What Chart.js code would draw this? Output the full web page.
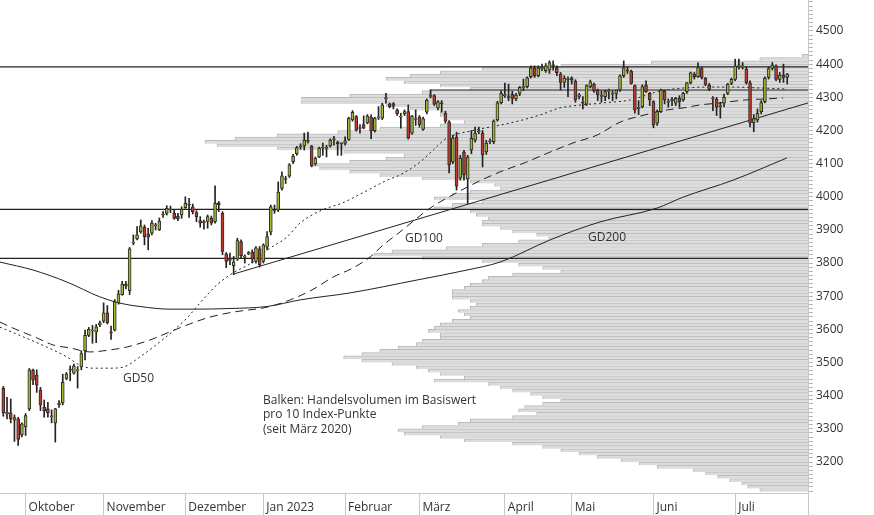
<!DOCTYPE html>
<html lang="de">
<head>
<meta charset="utf-8">
<title>Euro Stoxx 50 – Kursverlauf mit Volumenprofil</title>
<script src="https://cdn.jsdelivr.net/npm/chart.js@4.4.1/dist/chart.umd.min.js"></script>
<style>
  html, body { margin: 0; padding: 0; background: #fff; }
  #wrap { width: 874px; height: 515px; position: relative; }
</style>
</head>
<body>
<div id="wrap"><canvas id="chart"></canvas></div>
<script>
// Month axis: index of the first trading day of each month
const monthStart = [6, 27, 49, 70, 92, 112, 135, 153, 175, 197];
const monthNames = ['Oktober', 'November', 'Dezember', 'Jan 2023', 'Februar', 'März', 'April', 'Mai', 'Juni', 'Juli'];
const yLabels = [3200, 3300, 3400, 3500, 3600, 3700, 3800, 3900, 4000, 4100, 4200, 4300, 4400, 4500];

// Daily candles (Sep 2022 - Jul 2023)
const open = [3423,3345,3348,3326,3330,3282,3306,3360,3477,3462,
  3417,3366,3360,3336,3318,3372,3378,3452,3480,3468,
  3475,3487,3535,3582,3595,3592,3613,3625,3650,3592,
  3598,3680,3705,3737,3717,3860,3873,3894,3908,3888,
  3890,3912,3900,3945,3950,3960,3950,3942,3945,3967,
  3978,3970,3952,3928,3925,3926,3935,3925,3982,3950,
  3828,3808,3792,3812,3865,3818,3828,3833,3805,3843,
  3805,3848,3893,3960,3960,4025,4055,4062,4106,4130,
  4150,4153,4170,4153,4099,4120,4147,4146,4153,4172,
  4165,4160,4161,4173,4232,4242,4206,4218,4223,4240,
  4199,4238,4237,4296,4280,4281,4262,4240,4250,4257,
  4192,4233,4240,4203,4255,4303,4305,4268,4283,4252,
  4226,4105,4180,4057,4135,4054,4141,4171,4196,4191,
  4135,4166,4166,4232,4284,4305,4302,4309,4295,4312,
  4329,4332,4362,4389,4365,4386,4380,4382,4398,4389,
  4369,4345,4356,4358,4349,4303,4285,4279,4332,4340,
  4322,4303,4302,4318,4310,4312,4322,4365,4383,4379,
  4335,4266,4272,4337,4312,4287,4222,4257,4319,4285,
  4290,4282,4297,4292,4317,4344,4370,4362,4387,4357,
  4337,4298,4294,4272,4282,4312,4342,4354,4392,4392,
  4385,4344,4223,4232,4257,4287,4360,4387,4394,4354,
  4367,4360];
const high = [3428,3395,3390,3342,3335,3318,3346,3482,3480,3478,
  3425,3387,3380,3357,3362,3385,3465,3470,3490,3495,
  3488,3535,3598,3606,3612,3615,3625,3680,3672,3610,
  3690,3718,3745,3745,3847,3885,3910,3930,3915,3905,
  3928,3920,3936,3955,3973,3972,3960,3950,3970,4000,
  3995,3978,3958,3940,3930,3945,3942,4033,3986,3955,
  3832,3830,3820,3875,3870,3825,3835,3840,3850,3850,
  3858,3895,3975,3975,4045,4075,4062,4100,4128,4152,
  4160,4192,4195,4155,4120,4150,4162,4155,4175,4182,
  4168,4163,4181,4240,4260,4245,4218,4244,4248,4247,
  4240,4272,4282,4312,4283,4284,4265,4252,4262,4277,
  4246,4262,4245,4240,4295,4322,4308,4290,4290,4258,
  4230,4185,4195,4125,4140,4125,4200,4210,4210,4200,
  4170,4175,4232,4288,4320,4343,4340,4318,4312,4333,
  4355,4362,4395,4395,4395,4400,4402,4410,4410,4395,
  4375,4365,4362,4362,4353,4312,4302,4338,4352,4343,
  4325,4320,4322,4325,4320,4322,4368,4410,4392,4382,
  4338,4290,4338,4350,4315,4290,4262,4325,4322,4295,
  4300,4300,4305,4315,4345,4376,4375,4404,4392,4360,
  4342,4302,4300,4285,4310,4342,4358,4415,4415,4405,
  4392,4350,4248,4265,4290,4362,4392,4405,4398,4375,
  4400,4372];
const low = [3338,3330,3318,3262,3250,3276,3280,3355,3433,3410,
  3355,3335,3335,3318,3260,3365,3372,3448,3445,3465,
  3423,3478,3508,3578,3558,3560,3608,3620,3616,3570,
  3595,3676,3703,3722,3705,3855,3870,3890,3855,3840,
  3885,3900,3898,3938,3945,3952,3932,3928,3935,3965,
  3938,3948,3925,3908,3902,3905,3915,3920,3955,3825,
  3786,3795,3765,3808,3815,3800,3825,3800,3800,3788,
  3800,3840,3885,3950,3955,4020,4040,4058,4100,4125,
  4143,4141,4162,4090,4095,4118,4125,4120,4150,4156,
  4125,4125,4156,4170,4228,4198,4192,4205,4220,4175,
  4195,4233,4233,4282,4268,4265,4245,4207,4245,4174,
  4188,4215,4210,4200,4250,4298,4275,4262,4255,4222,
  4072,4100,4020,4050,4050,3980,4130,4165,4190,4090,
  4128,4160,4160,4228,4280,4300,4290,4280,4290,4305,
  4320,4328,4358,4360,4362,4380,4375,4372,4382,4365,
  4322,4330,4302,4340,4285,4295,4265,4275,4328,4315,
  4290,4285,4290,4295,4290,4295,4318,4360,4372,4340,
  4252,4248,4268,4315,4275,4208,4215,4254,4280,4270,
  4275,4275,4270,4288,4312,4340,4355,4360,4355,4335,
  4320,4260,4245,4237,4272,4308,4338,4350,4385,4385,
  4340,4211,4196,4225,4250,4283,4355,4382,4350,4345,
  4345,4340];
const close = [3348,3350,3330,3334,3268,3315,3340,3478,3447,3432,
  3372,3355,3348,3339,3360,3378,3440,3465,3477,3490,
  3478,3527,3582,3600,3598,3608,3620,3650,3620,3589,
  3683,3707,3737,3730,3843,3863,3885,3912,3880,3878,
  3921,3915,3927,3948,3965,3963,3935,3933,3963,3980,
  3975,3955,3940,3920,3922,3940,3920,3980,3976,3835,
  3805,3811,3803,3868,3822,3821,3832,3812,3846,3795,
  3855,3880,3970,3958,4014,4063,4052,4096,4123,4148,
  4153,4171,4167,4093,4117,4147,4150,4149,4171,4175,
  4160,4163,4169,4237,4255,4201,4209,4207,4243,4199,
  4237,4241,4277,4299,4272,4273,4250,4243,4257,4177,
  4243,4236,4217,4236,4292,4306,4279,4286,4281,4228,
  4096,4177,4032,4117,4066,4120,4176,4192,4199,4126,
  4162,4169,4228,4283,4312,4308,4299,4297,4307,4330,
  4332,4359,4389,4365,4389,4390,4395,4405,4395,4374,
  4345,4358,4353,4352,4292,4307,4282,4335,4347,4319,
  4307,4306,4317,4321,4313,4322,4365,4389,4380,4342,
  4262,4270,4332,4317,4292,4217,4257,4322,4292,4288,
  4294,4297,4287,4312,4344,4374,4362,4390,4360,4339,
  4324,4296,4270,4275,4300,4340,4354,4394,4396,4395,
  4344,4223,4236,4252,4284,4357,4387,4397,4354,4367,
  4360,4370];

// Moving averages (x = trading day index)
const gd50X = [-0.9,2.3,13.4,17.1,20.6,24.1,28.7,32.2,36.8,49.4,52.9,57.5,61.8,67.2,71,76.4,79.9,85.8,91.2,96.6,103.3,106.8,112.2,115.7,119.4,125.6,133.7,139.9,145.3,149.8,155.8,161.4,168.7,176.8,183,189.4,196.4,203.7,210.9];
const gd50Y = [3607,3592,3538,3517,3492,3483,3483,3486,3517,3634,3679,3734,3770,3803,3839,3879,3921,3960,3981,4011,4050,4066,4105,4141,4177,4198,4216,4232,4250,4268,4277,4283,4292,4319,4328,4331,4331,4328,4325];
const gd100X = [-0.9,2.6,9.1,13.4,18,23.3,28.7,33.3,39.5,44.1,49.4,55.6,61.8,71,77.2,83.1,88.8,94.1,98.7,102.2,106.8,114.9,119.4,127.5,133.7,140.9,145.3,153.3,159.8,166,172.7,178.7,183,187.5,192.9,199.7,205,209.9];
const gd100Y = [3622,3604,3574,3553,3544,3532,3538,3547,3568,3589,3613,3637,3652,3667,3689,3719,3758,3785,3818,3854,3894,3966,3996,4044,4075,4105,4126,4162,4186,4225,4247,4262,4268,4277,4283,4292,4295,4298];
const gd200X = [-0.9,8,17.1,26,31.4,36.8,44.9,51.6,61,71,79.9,93.3,111.4,124.8,133.7,147.2,160.6,176,183,196.4,210.9];
const gd200Y = [3803,3779,3743,3698,3679,3669,3661,3661,3663,3669,3689,3710,3749,3779,3803,3870,3924,3966,3999,4050,4117];

// Trend line from the December low, horizontal marks
const trendX = [62, 216.6];
const trendY = [3767, 4283];
const levels = [4392, 3962, 3814];
const marchHigh = 4322;

// Volume profile per 10 index points, bins 3115 .. 4425 (relative volume, max = 100)
const volume = [8,10,11,13,15,17,19,25,28,31,
  35,38,41,44,49,57,61,67,68,64,
  58,56,49,45,48,47,44,41,44,46,
  49,51,53,62,57,61,63,65,69,74,
  77,74,71,68,65,64,61,61,63,62,
  61,59,56,57,58,56,55,56,59,59,
  59,57,56,54,53,49,41,44,48,54,
  64,72,69,60,54,48,43,45,49,51,
  54,54,53,55,56,62,59,54,62,59,
  56,51,52,56,64,71,76,81,82,76,
  70,67,77,88,98,100,95,88,78,71,
  61,57,60,61,61,66,70,84,84,76,
  64,56,61,67,70,66,61,54,41,26,
  8,1];

const GREEN = '#a3b62a';
const RED = '#c0392b';
const INK = '#222';
const yMin = 3106.5, yMax = 4593.5;
const xMin = -0.89, xMax = 216.6;

const pairs = (xs, ys) => xs.map((x, i) => ({ x: x, y: ys[i] }));
const flat = v => [{ x: xMin, y: v }, { x: xMax, y: v }];

const wickData = close.map((c, i) => ({ x: i, y: [low[i], high[i]] }));
const bodyData = close.map((c, i) => ({ x: i, y: [open[i], c] }));
// bin centres of the profile
const volData = volume.map((v, i) => ({ x: v, y: 3115 + i * 10 }));

const lineStyle = { type: 'line', borderColor: INK, borderWidth: 1, pointRadius: 0, fill: false, order: 5 };

const notes = [
  { text: 'GD50', at: [32.2, 3453] },
  { text: 'GD100', at: [108.1, 3873] },
  { text: 'GD200', at: [157.4, 3876] },
  { text: 'Balken: Handelsvolumen im Basiswert', at: [69.9, 3384] },
  { text: 'pro 10 Index-Punkte', at: [69.9, 3342] },
  { text: '(seit März 2020)', at: [69.9, 3299] }
];

const notePlugin = {
  id: 'notes',
  afterDatasetsDraw(chart) {
    const { ctx, scales } = chart;
    ctx.save();
    ctx.font = '12px "Open Sans", sans-serif';
    ctx.fillStyle = '#333';
    ctx.textBaseline = 'middle';
    ctx.textAlign = 'left';
    notes.forEach(n => {
      ctx.fillText(n.text, scales.x.getPixelForValue(n.at[0]), scales.y.getPixelForValue(n.at[1]));
    });
    ctx.restore();
  },
  afterDraw(chart) {
    // carry the axis line down through the month strip
    const { ctx, chartArea } = chart;
    const xr = Math.round(chartArea.right) + 0.5;
    ctx.save();
    ctx.strokeStyle = '#c8c8c8';
    ctx.lineWidth = 1;
    ctx.beginPath();
    ctx.moveTo(xr, chartArea.bottom);
    ctx.lineTo(xr, chart.height);
    ctx.stroke();
    ctx.restore();
  }
};

Chart.defaults.font.family = '"Open Sans", sans-serif';
Chart.defaults.font.size = 12;
Chart.defaults.color = '#333';

new Chart(document.getElementById('chart'), {
  type: 'bar',
  data: {
    datasets: [
      {
        label: 'Volumen', data: volData, indexAxis: 'y', xAxisID: 'xv', yAxisID: 'yv',
        backgroundColor: '#dcdcdc', borderColor: '#b8b8b8',
        borderWidth: { top: 1, left: 1, right: 0, bottom: 0 }, borderSkipped: false,
        categoryPercentage: 1, barPercentage: 1, grouped: false, order: 10
      },
      ...levels.map(v => ({ ...lineStyle, label: 'Marke ' + v, data: flat(v), borderWidth: 1.2, order: 6 })),
      { ...lineStyle, label: 'März-Hoch', data: [{ x: 115, y: marchHigh - 15 }, { x: 115, y: marchHigh }, { x: xMax, y: marchHigh }], borderWidth: 1.2, order: 6 },
      { ...lineStyle, label: 'Trend', data: pairs(trendX, trendY) },
      { ...lineStyle, label: 'GD200', data: pairs(gd200X, gd200Y), cubicInterpolationMode: 'monotone' },
      { ...lineStyle, label: 'GD100', data: pairs(gd100X, gd100Y), cubicInterpolationMode: 'monotone', borderDash: [8, 5] },
      { ...lineStyle, label: 'GD50', data: pairs(gd50X, gd50Y), cubicInterpolationMode: 'monotone', borderDash: [2, 3] },
      {
        label: 'Docht', data: wickData, xAxisID: 'x', yAxisID: 'y',
        backgroundColor: INK, borderWidth: 0, barThickness: 1, grouped: false, order: 2
      },
      {
        label: 'Kerze', data: bodyData, xAxisID: 'x', yAxisID: 'y',
        backgroundColor: ctx => close[ctx.dataIndex] >= open[ctx.dataIndex] ? GREEN : RED,
        borderColor: '#2a2a2a', borderWidth: 1, borderSkipped: false,
        barThickness: 3, grouped: false, order: 1
      }
    ]
  },
  options: {
    responsive: true,
    maintainAspectRatio: false,
    animation: false,
    events: [],
    layout: { padding: 0 },
    plugins: { legend: { display: false }, tooltip: { enabled: false } },
    scales: {
      x: {
        type: 'linear', position: 'bottom', min: xMin, max: xMax, offset: false,
        grid: { drawOnChartArea: false, tickLength: 22, color: '#c8c8c8', offset: false },
        border: { color: '#c8c8c8' },
        ticks: {
          autoSkip: false, maxRotation: 0, align: 'start', labelOffset: 3, padding: -15,
          color: '#333', callback: v => monthNames[monthStart.indexOf(v)] || ''
        },
        afterBuildTicks: s => { s.ticks = monthStart.map(v => ({ value: v })); },
        afterFit: s => { s.height = 22; s.paddingLeft = 0; s.paddingRight = 0; }
      },
      y: {
        type: 'linear', position: 'right', min: yMin, max: yMax, offset: false,
        grid: { drawOnChartArea: false, tickLength: 5, color: '#b4b4b4' },
        border: { color: '#c8c8c8' },
        ticks: {
          autoSkip: false, padding: 3, color: '#333',
          callback: v => yLabels.includes(v) ? String(v) : ''
        },
        afterBuildTicks: s => {
          // minor ticks: 8 per 100 points
          const t = [];
          for (let v = 3112.5; v < yMax; v += 12.5) t.push({ value: v });
          s.ticks = t;
        },
        afterFit: s => { s.width = 66; s.paddingTop = 0; s.paddingBottom = 0; }
      },
      xv: { axis: 'x', type: 'linear', display: false, reverse: true, min: 0, max: 134, offset: false, grid: { offset: false } },
      yv: { axis: 'y', type: 'linear', display: false, min: yMin, max: yMax, offset: false, grid: { offset: false } }
    }
  },
  plugins: [notePlugin]
});
</script>
</body>
</html>
